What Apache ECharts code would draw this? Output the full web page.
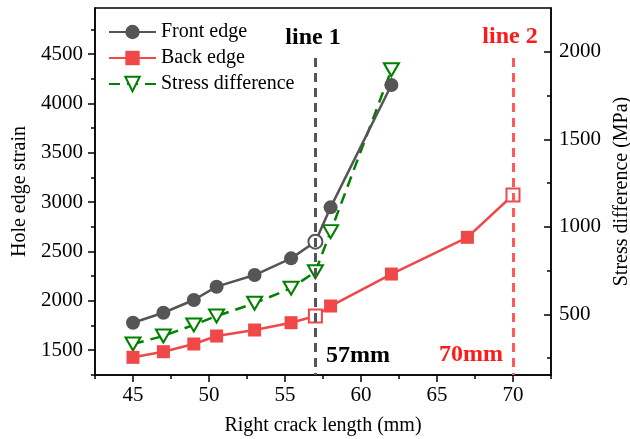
<!DOCTYPE html>
<html>
<head>
<meta charset="utf-8">
<script src="https://cdn.jsdelivr.net/npm/echarts@6/dist/echarts.min.js"></script>
<style>
  html, body { margin: 0; padding: 0; background: #fff; }
  #main { width: 630px; height: 439px; }
</style>
</head>
<body>
<div id="main"></div>
<script>
  // crack length (mm)
  const frontX = [45, 47, 49, 50.5, 53, 55.4, 57, 58, 62]
  const frontStrain = [1777, 1878, 2007, 2142, 2260, 2429, 2598, 2946, 4186]
  const backX = [45, 47, 49, 50.5, 53, 55.4, 57, 58, 62, 67, 70]
  const backStrain = [1426, 1483, 1561, 1642, 1703, 1777, 1845, 1946, 2270, 2642, 3071]
  const stressX = [45, 47, 49, 50.5, 53, 55.4, 57, 58, 62]
  const stressDiff = [330, 376, 439, 490, 563, 649, 743, 972, 1897]
  // hollow points (crack reaching line 1 / line 2)
  const frontHollow = [57]
  const backHollow = [57, 70]

  const xLabels = [45, 50, 55, 60, 65, 70]
  const xMinor = [42.5, 47.5, 52.5, 57.5, 62.5, 67.5, 72.5]
  const leftLabels = [1500, 2000, 2500, 3000, 3500, 4000, 4500]
  const leftMinor = [1250, 1750, 2250, 2750, 3250, 3750, 4250, 4750]
  const rightLabels = [500, 1000, 1500, 2000]
  const rightMinor = [250, 750, 1250, 1750]

  const line1X = 57
  const line2X = 70

  const font = 'Liberation Serif'
  const gray = '#555555'
  const red = '#f04848'
  const green = '#008000'

  function pairs(xs, ys, hollow, color) {
    return xs.map((x, i) => {
      if (hollow && hollow.indexOf(x) >= 0) {
        return { value: [x, ys[i]], itemStyle: { color: '#fff', borderColor: color, borderWidth: 2 } }
      }
      return [x, ys[i]]
    })
  }

  const leftMin = 1247, leftMax = 4966
  const rightMin = 153, rightMax = 2250
  const plain = (v) => String(v)

  function yAxisBase(pos, min, max) {
    return {
      type: 'value',
      position: pos,
      min: min,
      max: max,
      splitLine: { show: false },
      axisLine: { show: true, onZero: false, lineStyle: { color: '#000', width: 1.5 } },
    }
  }

  const chart = echarts.init(document.getElementById('main'))
  chart.setOption({
    animation: false,
    grid: {
      left: 95, right: 79, top: 8, bottom: 64,
      outerBoundsMode: 'none',
      show: true, borderColor: '#000', borderWidth: 1.5,
    },
    legend: {
      orient: 'vertical',
      left: 103,
      top: 17,
      itemWidth: 47,
      itemHeight: 18,
      itemGap: 6,
      textStyle: { fontFamily: font, fontSize: 20, color: '#000' },
      data: ['Front edge', 'Back edge', 'Stress difference'],
    },
    xAxis: [
      {
        type: 'value',
        min: 42.5,
        max: 72.5,
        name: 'Right crack length (mm)',
        nameLocation: 'middle',
        nameGap: 41,
        nameTextStyle: { fontFamily: font, fontSize: 20, color: '#000' },
        splitLine: { show: false },
        axisLine: { onZero: false, lineStyle: { color: '#000', width: 1.5 } },
        axisTick: { show: true, length: 7, customValues: xLabels, lineStyle: { color: '#000', width: 1.5 } },
        axisLabel: { customValues: xLabels, formatter: plain, margin: 10, fontFamily: font, fontSize: 21, color: '#000' },
      },
      {
        type: 'value',
        position: 'bottom',
        min: 42.5,
        max: 72.5,
        splitLine: { show: false },
        axisLine: { show: false },
        axisLabel: { show: false },
        axisTick: { show: true, length: 4, customValues: xMinor, lineStyle: { color: '#000', width: 1.5 } },
      },
    ],
    yAxis: [
      Object.assign(yAxisBase('left', leftMin, leftMax), {
        name: 'Hole edge strain',
        nameLocation: 'middle',
        nameRotate: 90,
        nameGap: 52,
        nameTextStyle: { fontFamily: font, fontSize: 20, color: '#000' },
        axisTick: { show: true, length: 7, customValues: leftLabels, lineStyle: { color: '#000', width: 1.5 } },
        axisLabel: { customValues: leftLabels, formatter: plain, margin: 12, fontFamily: font, fontSize: 21, color: '#000' },
      }),
      Object.assign(yAxisBase('right', rightMin, rightMax), {
        name: 'Stress difference (MPa)',
        nameLocation: 'middle',
        nameRotate: 90,
        nameGap: 58,
        nameTextStyle: { fontFamily: font, fontSize: 20, color: '#000' },
        axisTick: { show: true, inside: true, length: 7, customValues: rightLabels, lineStyle: { color: '#000', width: 1.5 } },
        axisLabel: { customValues: rightLabels, formatter: plain, margin: 8, fontFamily: font, fontSize: 21, color: '#000' },
      }),
      // minor ticks only
      Object.assign(yAxisBase('left', leftMin, leftMax), {
        axisLine: { show: false },
        axisLabel: { show: false },
        axisTick: { show: true, length: 4, customValues: leftMinor, lineStyle: { color: '#000', width: 1.5 } },
      }),
      Object.assign(yAxisBase('right', rightMin, rightMax), {
        axisLine: { show: false },
        axisLabel: { show: false },
        axisTick: { show: true, inside: true, length: 4, customValues: rightMinor, lineStyle: { color: '#000', width: 1.5 } },
      }),
    ],
    graphic: [
      { type: 'text', x: 313, y: 38, style: { text: 'line 1', font: 'bold 24px ' + font, fill: '#000', align: 'center', verticalAlign: 'middle' } },
      { type: 'text', x: 510, y: 37, style: { text: 'line 2', font: 'bold 24px ' + font, fill: '#ff1a1a', align: 'center', verticalAlign: 'middle' } },
      { type: 'text', x: 358, y: 356, style: { text: '57mm', font: 'bold 24px ' + font, fill: '#000', align: 'center', verticalAlign: 'middle' } },
      { type: 'text', x: 471, y: 355, style: { text: '70mm', font: 'bold 24px ' + font, fill: '#ff1a1a', align: 'center', verticalAlign: 'middle' } },
    ],
    series: [
      {
        name: 'Front edge',
        type: 'line',
        yAxisIndex: 0,
        symbol: 'circle',
        symbolSize: 14,
        z: 4,
        itemStyle: { color: gray },
        lineStyle: { color: gray, width: 2.5 },
        data: pairs(frontX, frontStrain, frontHollow, gray),
        markLine: {
          silent: true,
          symbol: 'none',
          label: { show: false },
          lineStyle: { color: gray, width: 3, type: [9, 6] },
          data: [[{ coord: [line1X, 4460] }, { coord: [line1X, leftMin] }]],
        },
      },
      {
        name: 'Back edge',
        type: 'line',
        yAxisIndex: 0,
        symbol: 'rect',
        symbolSize: 13,
        z: 4,
        itemStyle: { color: red },
        lineStyle: { color: red, width: 2.5 },
        data: pairs(backX, backStrain, backHollow, red),
        markLine: {
          silent: true,
          symbol: 'none',
          label: { show: false },
          lineStyle: { color: '#ff5a5a', width: 3, type: [9, 6] },
          data: [[{ coord: [line2X, 4460] }, { coord: [line2X, leftMin] }]],
        },
      },
      {
        name: 'Stress difference',
        type: 'line',
        yAxisIndex: 1,
        symbol: 'triangle',
        symbolRotate: 180,
        symbolSize: [15, 13],
        z: 3,
        itemStyle: { color: '#fff', borderColor: green, borderWidth: 2 },
        lineStyle: { color: green, width: 2.5, type: [11, 7] },
        data: pairs(stressX, stressDiff),
      },
    ],
  })
</script>
</body>
</html>
